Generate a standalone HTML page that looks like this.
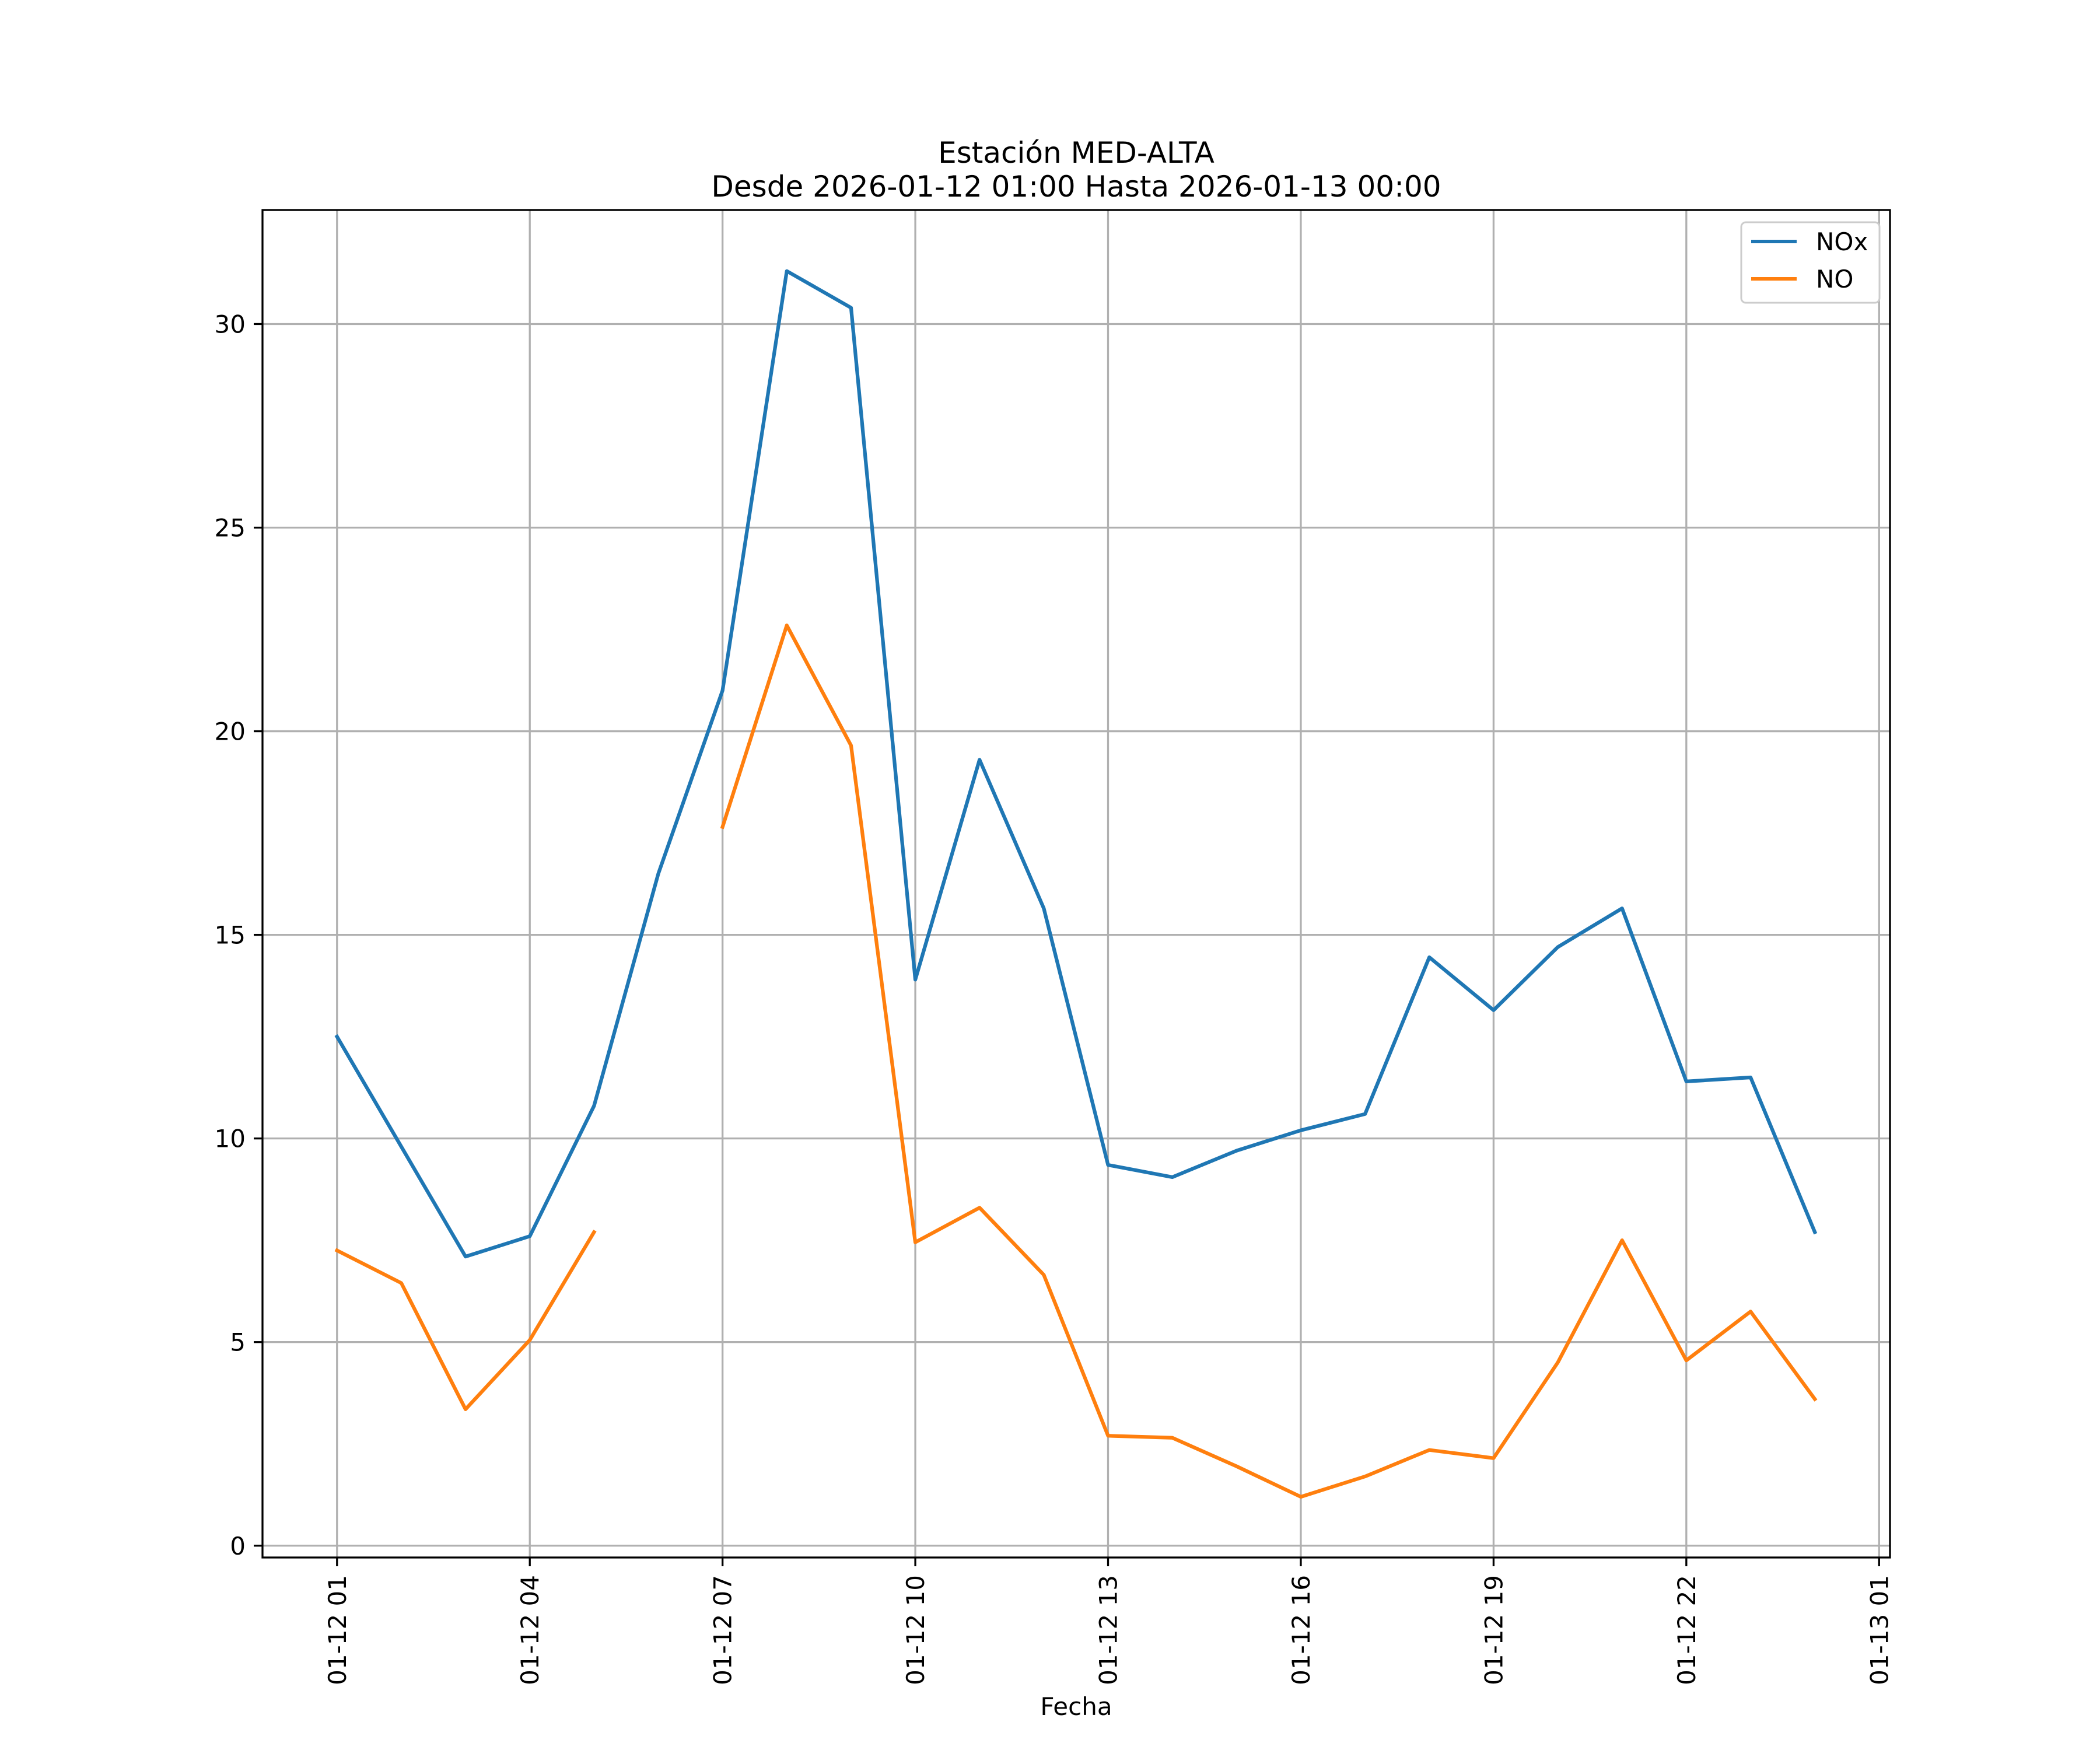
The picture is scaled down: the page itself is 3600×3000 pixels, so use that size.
<!DOCTYPE html>
<html><head><meta charset="utf-8"><style>body{margin:0;background:#fff}svg{display:block}text{font-family:"DejaVu Sans","Liberation Sans",sans-serif}</style></head>
<body>
<svg id="chart" width="3600" height="3000" viewBox="0 0 3600 3000" xmlns="http://www.w3.org/2000/svg">
<rect width="3600" height="3000" fill="#fff"/>
<g id="grid"></g>
<g id="series"></g>
<g id="axes"></g>
<text x="1845" y="279" font-size="50" text-anchor="middle">Estación MED-ALTA</text>
<text x="1845" y="337" font-size="50" text-anchor="middle">Desde 2026-01-12 01:00 Hasta 2026-01-13 00:00</text>
<text x="1845" y="2940" font-size="42" text-anchor="middle">Fecha</text>
<g>
<rect x="2985" y="381" width="237" height="138" rx="8" fill="#fff" stroke="#ccc" stroke-width="3"/>
<line x1="3002" y1="414" x2="3080" y2="414" stroke="#1f77b4" stroke-width="6"/>
<text x="3113" y="429" font-size="42">NOx</text>
<line x1="3002" y1="478" x2="3080" y2="478" stroke="#ff7f0e" stroke-width="6"/>
<text x="3113" y="493" font-size="42">NO</text>
</g>
</svg>
<script>
const hours = [1,2,3,4,5,6,7,8,9,10,11,12,13,14,15,16,17,18,19,20,21,22,23,24];
const noxValues = [12.5,9.8,7.1,7.6,10.8,16.5,21.0,31.3,30.4,13.9,19.3,15.65,9.35,9.05,9.7,10.2,10.6,14.45,13.15,14.7,15.65,11.4,11.5,7.7];
const noValues = [7.25,6.45,3.35,5.05,7.7,null,17.65,22.6,19.65,7.45,8.3,6.65,2.7,2.65,1.95,1.2,1.7,2.35,2.15,4.5,7.5,4.55,5.75,3.6];
const xTickHours = [1,4,7,10,13,16,19,22,25];
const xTickLabels = ["01-12 01","01-12 04","01-12 07","01-12 10","01-12 13","01-12 16","01-12 19","01-12 22","01-13 01"];
const yTicks = [0,5,10,15,20,25,30];

const L=450,R=3240,T=360,B=2670;
const xMin=-0.16,xMax=25.17,yMin=-0.29,yMax=32.80;
const xs=h=>L+(h-xMin)/(xMax-xMin)*(R-L);
const ys=v=>B-(v-yMin)/(yMax-yMin)*(B-T);
const NS="http://www.w3.org/2000/svg";
function mk(tag,attrs,parent,text){const e=document.createElementNS(NS,tag);for(const k in attrs)e.setAttribute(k,attrs[k]);if(text!==undefined)e.textContent=text;parent.appendChild(e);return e;}
const grid=document.getElementById('grid'),axes=document.getElementById('axes'),ser=document.getElementById('series');
xTickHours.forEach((h,i)=>{
  const x=xs(h);
  const g=mk('line',{x1:x,y1:T,x2:x,y2:B,stroke:'#b0b0b0','stroke-width':3.3},grid);
  
  
  const t=mk('line',{x1:x,y1:B,x2:x,y2:B+15,stroke:'#000','stroke-width':3.3},axes);
  
  
  const lb=mk('text',{x:0,y:0,'font-size':42,'text-anchor':'end',transform:`translate(${x+15},${B+30}) rotate(-90)`},axes,xTickLabels[i]);
  
  
});
yTicks.forEach(v=>{
  const y=ys(v);
  const g=mk('line',{x1:L,y1:y,x2:R,y2:y,stroke:'#b0b0b0','stroke-width':3.3},grid);
  
  
  const t=mk('line',{x1:L-15,y1:y,x2:L,y2:y,stroke:'#000','stroke-width':3.3},axes);
  
  
  const lb=mk('text',{x:L-29,y:y+15,'font-size':42,'text-anchor':'end'},axes,String(v));
  
  
});
const frame=mk('rect',{x:L,y:T,width:R-L,height:B-T,fill:'none',stroke:'#000','stroke-width':3.3},axes);


function drawSeries(vals,color,name){
  let segs=[],cur=[];
  vals.forEach((v,i)=>{if(v===null){if(cur.length)segs.push(cur);cur=[];}else cur.push(xs(hours[i])+','+ys(v));});
  if(cur.length)segs.push(cur);
  segs.forEach(s=>{
    const p=mk('polyline',{points:s.join(' '),fill:'none',stroke:color,'stroke-width':6.25,'stroke-linejoin':'round','stroke-linecap':'square'},ser);
    
    
  });
}
drawSeries(noxValues,'#1f77b4','nox-line');
drawSeries(noValues,'#ff7f0e','no-line');
</script>
</body></html>
